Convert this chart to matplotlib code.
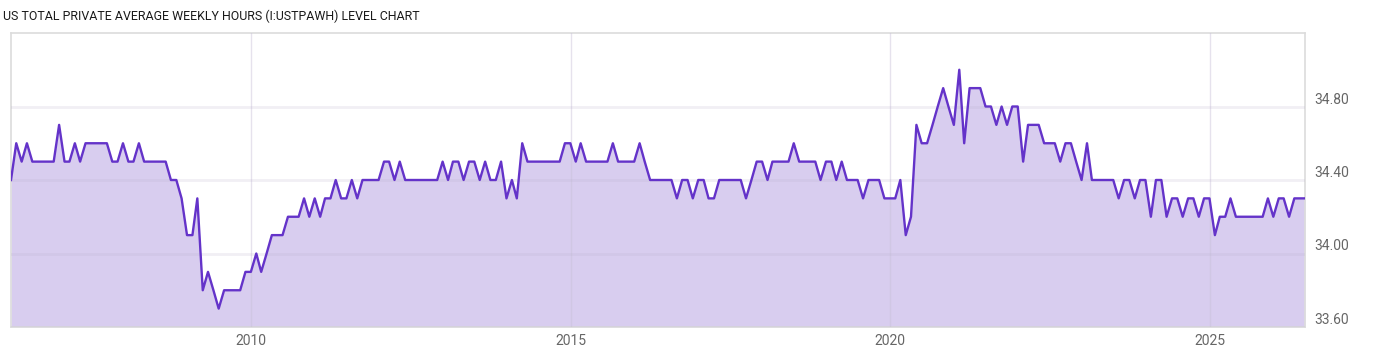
import numpy as np
import pandas as pd
import matplotlib.pyplot as plt
import matplotlib.dates as mdates

plt.rcParams['font.family'] = ['Roboto', 'DejaVu Sans']

title = 'US TOTAL PRIVATE AVERAGE WEEKLY HOURS (I:USTPAWH) LEVEL CHART'

# monthly average weekly hours, March 2006 onward
hours_2006_2010 = [34.4, 34.6, 34.5, 34.6, 34.5, 34.5, 34.5, 34.5, 34.5, 34.7,
                   34.5, 34.5, 34.6, 34.5, 34.6, 34.6, 34.6, 34.6, 34.6, 34.5,
                   34.5, 34.6, 34.5, 34.5, 34.6, 34.5, 34.5, 34.5, 34.5, 34.5,
                   34.4, 34.4, 34.3, 34.1, 34.1, 34.3, 33.8, 33.9, 33.8, 33.7,
                   33.8, 33.8, 33.8, 33.8, 33.9, 33.9, 34.0, 33.9, 34.0, 34.1]
hours_2010_2014 = [34.1, 34.1, 34.2, 34.2, 34.2, 34.3, 34.2, 34.3, 34.2, 34.3,
                   34.3, 34.4, 34.3, 34.3, 34.4, 34.3, 34.4, 34.4, 34.4, 34.4,
                   34.5, 34.5, 34.4, 34.5, 34.4, 34.4, 34.4, 34.4, 34.4, 34.4,
                   34.4, 34.5, 34.4, 34.5, 34.5, 34.4, 34.5, 34.5, 34.4, 34.5,
                   34.4, 34.4, 34.5, 34.3, 34.4, 34.3, 34.6, 34.5, 34.5, 34.5]
hours_2014_2018 = [34.5, 34.5, 34.5, 34.5, 34.6, 34.6, 34.5, 34.6, 34.5, 34.5,
                   34.5, 34.5, 34.5, 34.6, 34.5, 34.5, 34.5, 34.5, 34.6, 34.5,
                   34.4, 34.4, 34.4, 34.4, 34.4, 34.3, 34.4, 34.4, 34.3, 34.4,
                   34.4, 34.3, 34.3, 34.4, 34.4, 34.4, 34.4, 34.4, 34.3, 34.4,
                   34.5, 34.5, 34.4, 34.5, 34.5, 34.5, 34.5, 34.6, 34.5, 34.5]
hours_2018_2022 = [34.5, 34.5, 34.4, 34.5, 34.5, 34.4, 34.5, 34.4, 34.4, 34.4,
                   34.3, 34.4, 34.4, 34.4, 34.3, 34.3, 34.3, 34.4, 34.1, 34.2,
                   34.7, 34.6, 34.6, 34.7, 34.8, 34.9, 34.8, 34.7, 35.0, 34.6,
                   34.9, 34.9, 34.9, 34.8, 34.8, 34.7, 34.8, 34.7, 34.8, 34.8,
                   34.5, 34.7, 34.7, 34.7, 34.6, 34.6, 34.6, 34.5, 34.6, 34.6]
hours_2022_2026 = [34.5, 34.4, 34.6, 34.4, 34.4, 34.4, 34.4, 34.4, 34.3, 34.4,
                   34.4, 34.3, 34.4, 34.4, 34.2, 34.4, 34.4, 34.2, 34.3, 34.3,
                   34.2, 34.3, 34.3, 34.2, 34.3, 34.3, 34.1, 34.2, 34.2, 34.3,
                   34.2, 34.2, 34.2, 34.2, 34.2, 34.2, 34.3, 34.2, 34.3, 34.3,
                   34.2, 34.3, 34.3, 34.3]

hours = hours_2006_2010 + hours_2010_2014 + hours_2014_2018 + hours_2018_2022 + hours_2022_2026
dates = pd.date_range('2006-03-31', periods=len(hours), freq='ME')

y_ticks = [33.6, 34.0, 34.4, 34.8]
x_ticks = ['2010', '2015', '2020', '2025']

line_color = '#6433c9'
fill_color = '#d8cdef'

fig = plt.figure(figsize=(14, 3.57), dpi=100)
ax = fig.add_axes([11 / 1400, 1 - 327 / 357, 1294 / 1400, 294 / 357])

ax.fill_between(dates, hours, 33.6, color=fill_color, lw=0, zorder=1)
ax.plot(dates, hours, color=line_color, lw=1.7, zorder=3)

ax.set_ylim(33.6, 35.2)
ax.set_xlim(dates[0], dates[-1])
ax.set_yticks(y_ticks)
ax.set_yticklabels(['%.2f' % v for v in y_ticks])
ax.set_xticks(pd.to_datetime(x_ticks))
ax.xaxis.set_major_formatter(mdates.DateFormatter('%Y'))

ax.yaxis.tick_right()
ax.tick_params(axis='both', length=0, labelsize=10, labelcolor='#666666')
ax.tick_params(axis='y', pad=7)
ax.tick_params(axis='x', pad=5)
for lbl in ax.get_yticklabels():
    lbl.set_va('bottom')

ax.set_axisbelow(False)
ax.grid(axis='y', color='#b9b0cc', alpha=0.2, lw=2, zorder=2)
ax.grid(axis='x', color='#c8c0d8', alpha=0.45, lw=1, zorder=2)
for s in ax.spines.values():
    s.set_color('#dcdcdc')
    s.set_linewidth(1.2)

fig.text(3 / 1400, 1 - 16 / 357, title, fontsize=8.9, color='#1a1a1a', va='center', ha='left')

fig.savefig('out.png', dpi=100, facecolor='white')
